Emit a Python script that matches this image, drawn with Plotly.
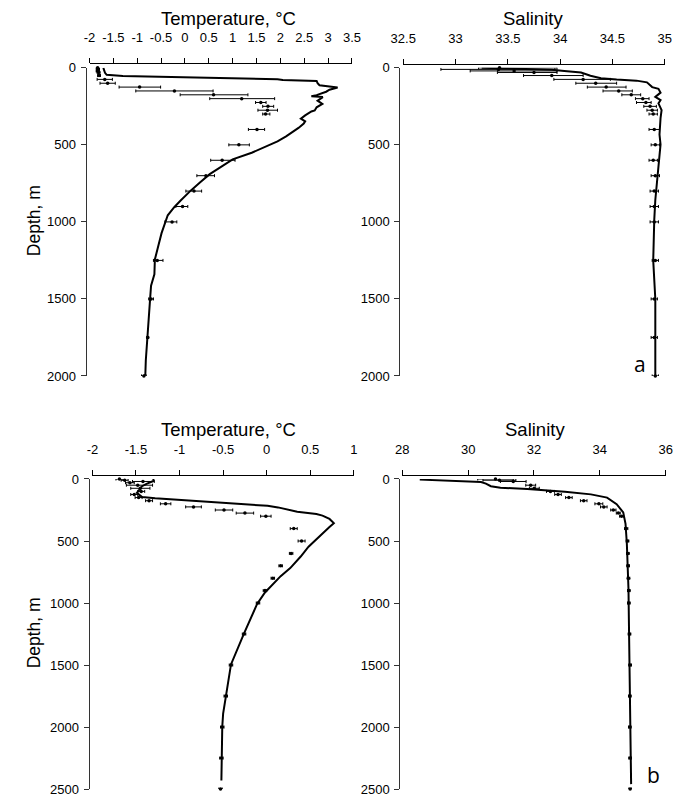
import plotly.graph_objects as go

# ---------------- data ----------------
# Panel a: temperature profile (line)
a_t_line_depth = [0, 32, 45, 49, 53, 74, 79, 85, 100, 113, 120, 128, 142, 155, 177, 185, 190, 200, 213,
                  234, 256, 277, 283, 309, 317, 330, 347, 362, 390, 413, 445, 477, 520, 551, 594, 647,
                  690, 743, 797, 861, 903, 957, 1010, 1073, 1158, 1244, 1340, 1414, 1500, 1627, 1755,
                  1900, 1990, 2000]
a_t_line_val = [-1.71, -1.675, -1.64, -1.45, -1.30, 1.94, 2.05, 2.76, 2.78, 2.82, 3.03, 3.20, 3.03, 2.96,
                2.76, 2.65, 2.89, 2.85, 2.78, 2.88, 2.76, 2.72, 2.65, 2.52, 2.49, 2.43, 2.52, 2.49, 2.38,
                2.28, 2.12, 1.94, 1.61, 1.40, 1.00, 0.73, 0.52, 0.32, 0.12, -0.09, -0.22, -0.36, -0.42,
                -0.49, -0.56, -0.63, -0.64, -0.71, -0.73, -0.76, -0.80, -0.82, -0.83, -0.86]
# Panel a: temperature observations (points with error ranges)
a_t_pt_depth = [0, 10, 20, 30, 50, 75, 100, 125, 150, 175, 200, 225, 250, 275, 300, 400, 500, 600, 700,
                800, 900, 1000, 1250, 1500, 1750, 2000]
a_t_pt_val = [-1.83, -1.82, -1.83, -1.81, -1.80, -1.68, -1.62, -0.95, -0.22, 0.60, 1.19, 1.59, 1.74, 1.73,
              1.69, 1.51, 1.13, 0.78, 0.44, 0.19, -0.05, -0.27, -0.58, -0.71, -0.78, -0.86]
a_t_err_minus = [0.03, 0.03, 0.03, 0.03, 0.03, 0.16, 0.16, 0.43, 0.81, 0.70, 0.67, 0.11, 0.11, 0.20, 0.06,
                 0.18, 0.21, 0.24, 0.19, 0.17, 0.14, 0.15, 0.08, 0.05, 0.02, 0.05]
a_t_err_plus = [0.03, 0.03, 0.03, 0.03, 0.03, 0.16, 0.16, 0.44, 0.81, 0.72, 0.69, 0.11, 0.12, 0.21, 0.09,
                0.16, 0.22, 0.27, 0.18, 0.16, 0.11, 0.10, 0.12, 0.05, 0.02, 0.05]

# Panel a: salinity profile (line)
a_s_line_depth = [0, 5, 12, 20, 30, 51, 68, 76, 83, 94, 125, 136, 161, 189, 210, 231, 274, 327, 433, 497,
                  645, 752, 858, 985, 1250, 1500, 1750, 2000]
a_s_line_val = [33.25, 33.6, 33.92, 34.04, 34.20, 34.29, 34.39, 34.54, 34.73, 34.83, 34.88, 34.94, 34.96,
                34.91, 34.96, 34.94, 34.97, 34.96, 34.95, 34.96, 34.94, 34.93, 34.91, 34.90, 34.89, 34.91,
                34.91, 34.91]
# Panel a: salinity observations
a_s_pt_depth = [0, 10, 20, 30, 50, 75, 100, 125, 150, 175, 200, 225, 250, 275, 300, 400, 500, 600, 700,
                800, 900, 1000, 1250, 1500, 1750, 2000]
a_s_pt_val = [33.42, 33.41, 33.56, 33.75, 33.92, 34.22, 34.34, 34.44, 34.56, 34.68, 34.79, 34.82, 34.86,
              34.88, 34.89, 34.90, 34.91, 34.89, 34.91, 34.90, 34.90, 34.90, 34.91, 34.90, 34.90, 34.91]
a_s_err_minus = [0.20, 0.55, 0.42, 0.35, 0.27, 0.28, 0.19, 0.18, 0.15, 0.09, 0.07, 0.09, 0.06, 0.05, 0.04,
                 0.05, 0.04, 0.04, 0.04, 0.04, 0.04, 0.04, 0.03, 0.03, 0.03, 0.03]
a_s_err_plus = [0.55, 0.54, 0.41, 0.22, 0.30, 0.26, 0.20, 0.19, 0.13, 0.09, 0.06, 0.05, 0.06, 0.05, 0.04,
                0.05, 0.04, 0.04, 0.04, 0.04, 0.04, 0.04, 0.03, 0.03, 0.03, 0.03]

# Panel b: temperature profile (line)
b_t_line_depth = [0, 16, 40, 58, 111, 145, 156, 216, 229, 264, 282, 295, 322, 356, 388, 427, 493, 546,
                  625, 718, 783, 849, 915, 1007, 1100, 1245, 1495, 1746, 1891, 1996, 2260, 2431]
b_t_line_val = [-1.30, -1.30, -1.38, -1.43, -1.49, -1.43, -1.28, 0.01, 0.13, 0.35, 0.57, 0.64, 0.72, 0.77,
                0.72, 0.66, 0.57, 0.48, 0.39, 0.27, 0.16, 0.07, -0.02, -0.11, -0.17, -0.26, -0.41, -0.47,
                -0.50, -0.51, -0.52, -0.52]
# Panel b: temperature observations
b_t_pt_depth = [0, 10, 20, 30, 50, 75, 100, 125, 150, 175, 200, 225, 250, 275, 300, 400, 500, 600, 700,
                800, 900, 1000, 1250, 1500, 1750, 2000, 2250, 2500]
b_t_pt_val = [-1.69, -1.63, -1.42, -1.57, -1.48, -1.45, -1.44, -1.52, -1.47, -1.35, -1.16, -0.84, -0.49,
              -0.25, -0.01, 0.31, 0.40, 0.28, 0.16, 0.07, -0.02, -0.10, -0.26, -0.41, -0.47, -0.51, -0.52,
              -0.53]
b_t_err_minus = [0.04, 0.04, 0.12, 0.05, 0.13, 0.11, 0.04, 0.04, 0.04, 0.04, 0.06, 0.09, 0.10, 0.10, 0.06,
                 0.04, 0.04, 0.02, 0.02, 0.02, 0.02, 0.02, 0.02, 0.02, 0.02, 0.02, 0.02, 0.02]
b_t_err_plus = [0.04, 0.04, 0.13, 0.05, 0.17, 0.11, 0.04, 0.04, 0.04, 0.04, 0.06, 0.09, 0.10, 0.10, 0.06,
                0.04, 0.04, 0.02, 0.02, 0.02, 0.02, 0.02, 0.02, 0.02, 0.02, 0.02, 0.02, 0.02]

# Panel b: salinity profile (line)
b_s_line_depth = [5, 24, 37, 58, 71, 80, 103, 124, 150, 203, 269, 361, 520, 704, 889, 1100, 1500, 2000,
                  2460]
b_s_line_val = [28.53, 30.39, 30.54, 30.69, 30.98, 31.80, 32.94, 33.73, 34.22, 34.51, 34.71, 34.78, 34.82,
                34.85, 34.87, 34.88, 34.90, 34.92, 34.95]
# Panel b: salinity observations
b_s_pt_depth = [0, 10, 20, 50, 75, 100, 125, 150, 175, 200, 225, 250, 275, 300, 400, 500, 600, 700, 800,
                900, 1000, 1250, 1500, 1750, 2000, 2250, 2500]
b_s_pt_val = [30.83, 30.95, 31.37, 31.90, 32.01, 32.50, 32.73, 33.06, 33.51, 33.97, 34.12, 34.41, 34.56,
              34.66, 34.80, 34.84, 34.85, 34.86, 34.87, 34.88, 34.88, 34.90, 34.92, 34.91, 34.91, 34.92,
              34.92]
b_s_err_minus = [0.54, 0.50, 0.39, 0.15, 0.15, 0.12, 0.10, 0.10, 0.10, 0.12, 0.10, 0.08, 0.06, 0.06, 0.05,
                 0.04, 0.04, 0.04, 0.04, 0.04, 0.04, 0.04, 0.04, 0.04, 0.04, 0.04, 0.04]
b_s_err_plus = [0.54, 0.50, 0.39, 0.15, 0.15, 0.12, 0.10, 0.10, 0.10, 0.12, 0.10, 0.08, 0.06, 0.06, 0.05,
                0.04, 0.04, 0.04, 0.04, 0.04, 0.04, 0.04, 0.04, 0.04, 0.04, 0.04, 0.04]

# tick labels
a_t_ticks = [-2, -1.5, -1, -0.5, 0, 0.5, 1, 1.5, 2, 2.5, 3, 3.5]
a_s_ticks = [32.5, 33, 33.5, 34, 34.5, 35]
b_t_ticks = [-2, -1.5, -1, -0.5, 0, 0.5, 1]
b_s_ticks = [28, 30, 32, 34, 36]
a_depth_ticks = [0, 500, 1000, 1500, 2000]
b_depth_ticks = [0, 500, 1000, 1500, 2000, 2500]

x_title_temp = "Temperature, °C"
x_title_sal = "Salinity"
y_title = "Depth, m"
panel_labels = ["a", "b"]

# ---------------- layout helpers ----------------
W, H = 696, 801
FONT = "Liberation Sans, Arial, sans-serif"


def fx(p):
    return p / W


def fy(p):
    return 1 - p / H


def lbl(v):
    return "%g" % v  # plain hyphen-minus as in the reference


fig = go.Figure()

panels = [
    # (n, line_d, line_v, pt_d, pt_v, em, ep, xticks, yticks, xdom_px, ydom_px, xaxis_line_py, yaxis_line_px)
    (1, a_t_line_depth, a_t_line_val, a_t_pt_depth, a_t_pt_val, a_t_err_minus, a_t_err_plus,
     a_t_ticks, a_depth_ticks, (79, 350), (62, 376), 57, 75),
    (2, a_s_line_depth, a_s_line_val, a_s_pt_depth, a_s_pt_val, a_s_err_minus, a_s_err_plus,
     a_s_ticks, a_depth_ticks, (403, 673), (62, 376), 58, 399),
    (3, b_t_line_depth, b_t_line_val, b_t_pt_depth, b_t_pt_val, b_t_err_minus, b_t_err_plus,
     b_t_ticks, b_depth_ticks, (82, 352), (481, 797), 477, 78),
    (4, b_s_line_depth, b_s_line_val, b_s_pt_depth, b_s_pt_val, b_s_err_minus, b_s_err_plus,
     b_s_ticks, b_depth_ticks, (402, 674), (481, 797), 477, 399),
]

for (n, ld, lv, pd_, pv, em, ep, xt, yt, xdom, ydom, xline, yline) in panels:
    xa = "x" if n == 1 else "x%d" % n
    ya = "y" if n == 1 else "y%d" % n
    fig.add_trace(go.Scatter(
        x=pv, y=pd_, xaxis=xa, yaxis=ya, mode="markers",
        marker=dict(color="black", size=3.5),
        error_x=dict(type="data", symmetric=False, array=ep, arrayminus=em,
                     color="black", thickness=1, width=1.5),
        cliponaxis=False, showlegend=False, hoverinfo="x+y"))
    fig.add_trace(go.Scatter(
        x=lv, y=ld, xaxis=xa, yaxis=ya, mode="lines",
        line=dict(color="black", width=2), showlegend=False, hoverinfo="x+y"))

    xkey = "xaxis" if n == 1 else "xaxis%d" % n
    ykey = "yaxis" if n == 1 else "yaxis%d" % n
    fig.layout[xkey] = dict(
        domain=[fx(xdom[0]), fx(xdom[1])], range=[xt[0], xt[-1]],
        side="top", anchor="free", position=fy(xline),
        showline=True, linecolor="black", linewidth=1,
        ticks="outside", ticklen=5, tickcolor="black", tickwidth=1,
        ticklabelstandoff=11,
        tickvals=xt, ticktext=[lbl(v) for v in xt],
        tickfont=dict(family=FONT, size=13, color="black"),
        showgrid=False, zeroline=False, fixedrange=True)
    fig.layout[ykey] = dict(
        domain=[fy(ydom[1]), fy(ydom[0])], range=[yt[-1], yt[0]],
        anchor="free", position=fx(yline), side="left",
        showline=True, linecolor="#333333", linewidth=1,
        ticks="outside", ticklen=5, tickcolor="#333333", tickwidth=1,
        ticklabelstandoff=2,
        tickvals=yt, ticktext=[str(v) for v in yt],
        tickfont=dict(family=FONT, size=13, color="black"),
        showgrid=False, zeroline=False, fixedrange=True)

annotations = []
for cx, cy, txt in [(223, 12, x_title_temp), (537, 12, x_title_sal),
                    (223, 431, x_title_temp), (539, 431, x_title_sal)]:
    annotations.append(dict(x=fx(cx), y=fy(cy), xref="paper", yref="paper", text=txt,
                            showarrow=False, xanchor="center", yanchor="middle",
                            font=dict(family=FONT, size=18.5, color="black")))
for cy in (218, 638):
    annotations.append(dict(x=fx(22), y=fy(cy), xref="paper", yref="paper", text=y_title,
                            showarrow=False, xanchor="center", yanchor="middle", textangle=-90,
                            font=dict(family=FONT, size=17.5, color="black")))
for (cx, cy), txt in zip([(647, 364), (661, 783)], panel_labels):
    annotations.append(dict(x=fx(cx), y=fy(cy), xref="paper", yref="paper", text=txt,
                            showarrow=False, xanchor="center", yanchor="middle",
                            font=dict(family="Open Sans, sans-serif", size=21, color="black")))

fig.update_layout(
    width=W, height=H, margin=dict(l=0, r=0, t=0, b=0),
    paper_bgcolor="white", plot_bgcolor="white",
    annotations=annotations, showlegend=False)

fig.write_html("out.html")
